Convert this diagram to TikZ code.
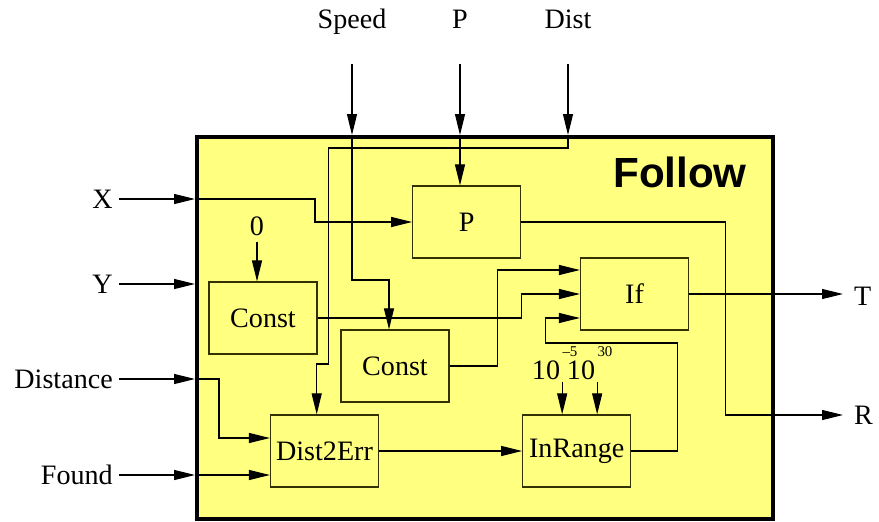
\documentclass[tikz,border=0pt]{standalone}
\usepackage{fontspec}
\setmainfont{Liberation Serif}
\newfontfamily\titlefont{Liberation Sans}
\usetikzlibrary{arrows.meta}
\definecolor{blockfill}{RGB}{255,255,128}
\definecolor{blockline}{RGB}{50,50,0}
\tikzset{
  block/.style={draw=blockline, fill=blockfill, line width=0.7pt, minimum width=2.16cm, minimum height=1.44cm, inner sep=0pt},
  wire/.style={line width=0.65pt, draw=black},
  toplbl/.style={text height=11pt, text depth=3.5pt},
  expo/.style={font=\fontsize{8.5}{10}\selectfont, inner sep=0pt, anchor=west},
}

\begin{document}
\begin{tikzpicture}[x=0.02cm, y=-0.02cm, every node/.style={font=\fontsize{16}{19}\selectfont}, >={Triangle[length=4.2mm,width=2mm]}]
	\useasboundingbox (0,0) rectangle (879,521);
	\node[draw, line width=2.3pt, fill=blockfill, minimum width=11.52cm, minimum height=7.64cm] (follow) at (485,328) {};
	\node[font=\titlefont\bfseries\fontsize{24}{28}\selectfont] (title) at (680,172) {Follow};

	\node[block] (p) at (466.7,222) {P};
	\node[block] (iff) at (634.5,294) {If};
	\node[block] (cstA) at (263,318) {Const};
	\node[block] (cstB) at (395,366) {Const};
	\node[block] (d2e) at (324.5,451) {Dist2Err};
	\node[block] (inr) at (576.7,451) {InRange};

	\node[toplbl] (speed) at (352,22) {Speed};
	\node[toplbl] (pin) at (460,22) {P};
	\node[toplbl] (dist) at (568,22) {Dist};
	\node[anchor=east] (xin) at (119,199) {X};
	\node[anchor=east] (yin) at (119,284) {Y};
	\node[anchor=east] (distance) at (119,379) {Distance};
	\node[anchor=east] (found) at (119,475) {Found};
	\node[anchor=west] (tout) at (848,296) {T};
	\node[anchor=west] (rout) at (848,415) {R};
	\node (zero) at (257,226) {0};
	\node[inner sep=1pt] (lo) at (546,370) {10};
	\node[inner sep=1pt] (hi) at (581,370) {10};
	\node[expo] (loexp) at ([yshift=0.14cm]lo.north east) {--5};
	\node[expo] (hiexp) at ([yshift=0.14cm]hi.north east) {30};

	\draw[->, wire, shorten <=0.46cm] (speed.south) -- (speed |- follow.north);
	\draw[->, wire, shorten <=0.46cm] (pin.south) -- (pin |- follow.north);
	\draw[->, wire, shorten <=0.46cm] (dist.south) -- (dist |- follow.north);
	\draw[->, wire] (xin.east) -- (xin -| follow.west);
	\draw[->, wire] (yin.east) -- (yin -| follow.west);
	\draw[->, wire] (distance.east) -- (distance -| follow.west);
	\draw[->, wire] (found.east) -- (found -| follow.west);

	\draw[->, wire] (speed |- follow.north) -- ++(0,145) -| ([xshift=-0.12cm]cstB.north);
	\draw[->, wire] (pin |- follow.north) -- (pin |- p.north);
	\draw[->, wire] (dist |- follow.north) -- ++(0,13) -- ++(-239.3,0) -- ++(0,216) -| ([xshift=-0.156cm]d2e.north);
	\draw[->, wire] (xin -| follow.west) -- ++(120,0) |- (p.west);
	\draw[->, wire] (distance -| follow.west) -- ++(24,0) |- ([yshift=0.26cm]d2e.west);
	\draw[->, wire] (found -| follow.west) -- (found -| d2e.west);
	\draw[->, wire] (zero.south) -- (zero |- cstA.north);
	\draw[->, wire] (cstA.east) -- (cstA.east -| p.east) |- (iff.west);
	\draw[->, wire] (cstB.east) -- ++(47.7,0) |- ([yshift=0.48cm]iff.west);
	\draw[->, wire] (inr.east) -- ++(46.3,0) -- ++(0,-108) -- ++(-132,0) |- ([yshift=-0.48cm]iff.west);
	\draw[->, wire] (d2e.east) -- (inr.west);
	\draw[->, wire] (lo.south east) -- (lo.south east |- inr.north);
	\draw[->, wire] (hi.south east) -- (hi.south east |- inr.north);
	\draw[->, wire, shorten >=0.1cm] (iff.east) -- (iff.east -| tout.west);
	\draw[->, wire, shorten >=0.1cm] (p.east) -- ++(204.3,0) |- (rout.west);
\end{tikzpicture}
\end{document}
